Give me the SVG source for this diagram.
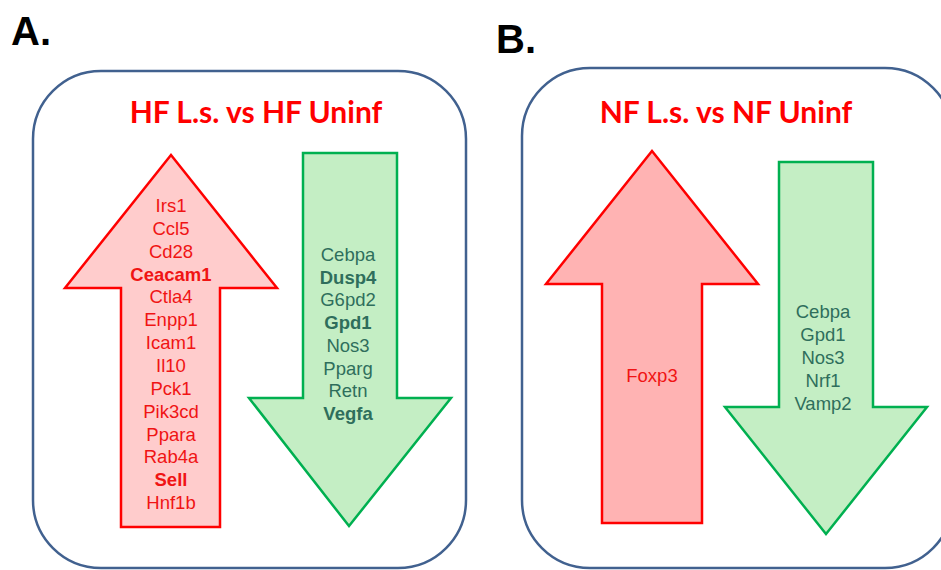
<svg xmlns="http://www.w3.org/2000/svg" width="941" height="570" viewBox="0 0 941 570">
<style>
.panel{fill:#fff;stroke:#41618f;stroke-width:2.5}
.lbl{font-family:"Liberation Sans",Arial,sans-serif;font-weight:bold;font-size:40px;fill:#000}
.title{font-family:"Lato","Liberation Sans",sans-serif;font-weight:bold;font-size:30px;fill:#ff0000;text-anchor:middle}
.up{fill:#ffcccc;stroke:#ff0000;stroke-width:2.5}
.up2{fill:#ffb3b3;stroke:#ff0000;stroke-width:2.5}
.down{fill:#c4eec4;stroke:#00b050;stroke-width:2.5}
.rt{font-family:"Liberation Sans",Arial,sans-serif;font-size:18.5px;fill:#f01414;text-anchor:middle}
.gt{font-family:"Liberation Sans",Arial,sans-serif;font-size:18.5px;fill:#2f6e5c;text-anchor:middle}
.b{font-weight:bold}
</style>
<rect width="941" height="570" fill="#fff"/>
<text class="lbl" x="11" y="45">A.</text>
<text class="lbl" x="496" y="53">B.</text>
<g id="panelA">
<rect class="panel" x="33" y="71" width="433" height="497" rx="68" ry="68"/>
<text class="title" x="256" y="123">HF L.s. vs HF Uninf</text>
</g>
<g id="upA">
<polygon class="up" points="171,155 277,288 220,288 220,527 121,527 121,288 65,288"/>
<text class="rt" x="171" y="212">Irs1</text>
<text class="rt" x="171" y="235">Ccl5</text>
<text class="rt" x="171" y="258">Cd28</text>
<text class="rt b" x="171" y="281">Ceacam1</text>
<text class="rt" x="171" y="303">Ctla4</text>
<text class="rt" x="171" y="326">Enpp1</text>
<text class="rt" x="171" y="349">Icam1</text>
<text class="rt" x="171" y="372">Il10</text>
<text class="rt" x="171" y="395">Pck1</text>
<text class="rt" x="171" y="418">Pik3cd</text>
<text class="rt" x="171" y="441">Ppara</text>
<text class="rt" x="171" y="463">Rab4a</text>
<text class="rt b" x="171" y="486">Sell</text>
<text class="rt" x="171" y="509">Hnf1b</text>
</g>
<g id="downA">
<polygon class="down" points="303,153 397,153 397,398 451,398 349,526 249,398 303,398"/>
<text class="gt" x="348" y="261">Cebpa</text>
<text class="gt b" x="348" y="284">Dusp4</text>
<text class="gt" x="348" y="306">G6pd2</text>
<text class="gt b" x="348" y="329">Gpd1</text>
<text class="gt" x="348" y="352">Nos3</text>
<text class="gt" x="348" y="375">Pparg</text>
<text class="gt" x="348" y="397">Retn</text>
<text class="gt b" x="348" y="420">Vegfa</text>
</g>
<g id="panelB">
<rect class="panel" x="522" y="68" width="431" height="500" rx="68" ry="68"/>
<text class="title" x="726" y="123">NF L.s. vs NF Uninf</text>
</g>
<g id="upB">
<polygon class="up2" points="652,151 758,284 702,284 702,523 602,523 602,284 546,284"/>
<text class="rt" x="652" y="382">Foxp3</text>
</g>
<g id="downB">
<polygon class="down" points="779,162 873,162 873,407 927,407 826,534 725,407 779,407"/>
<text class="gt" x="823" y="318">Cebpa</text>
<text class="gt" x="823" y="341">Gpd1</text>
<text class="gt" x="823" y="364">Nos3</text>
<text class="gt" x="823" y="387">Nrf1</text>
<text class="gt" x="823" y="410">Vamp2</text>
</g>
<g id="connectors"/>
</svg>
